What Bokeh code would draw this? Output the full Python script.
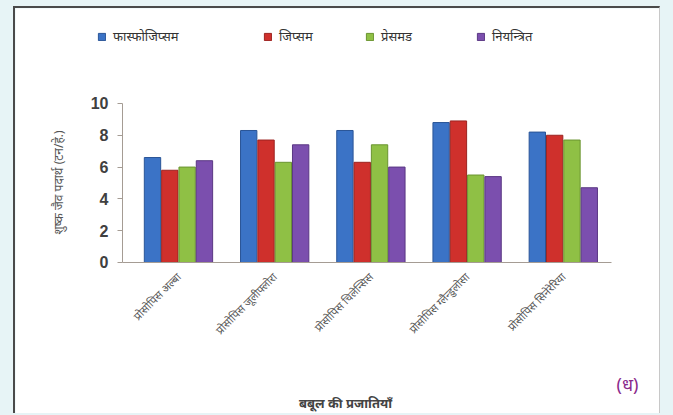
import math
from bokeh.plotting import figure
from bokeh.models import (ColumnDataSource, Legend, LegendItem, Label,
                          Range1d, FixedTicker)
from bokeh.transform import dodge
from bokeh.layouts import column
from bokeh.embed import file_html
from bokeh.resources import INLINE

# ---------------- data ----------------
species = ["प्रोसोपिस अल्बा", "प्रोसोपिस जूलीफ्लोरा", "प्रोसोपिस चिलेन्सिस",
           "प्रोसोपिस ग्लैन्डुलोसा", "प्रोसोपिस सिनेरेरिया"]
series_names = ["फास्फोजिप्सम", "जिप्सम", "प्रेसमड", "नियन्त्रित"]
phosphogypsum = [6.6, 8.3, 8.3, 8.8, 8.2]
gypsum = [5.8, 7.7, 6.3, 8.9, 8.0]
pressmud = [6.0, 6.3, 7.4, 5.5, 7.7]
control = [6.4, 7.4, 6.0, 5.4, 4.7]
y_ticks = [0, 2, 4, 6, 8, 10]
y_title = "शुष्क जैव पदार्थ (टन/हे.)"
x_title = "बबूल की प्रजातियाँ"
panel_tag = "(ध)"

position = list(range(1, len(species) + 1))  # category slots

colors = ["#3b73c6", "#cf302c", "#8fc045", "#7b4fae"]
edge_colors = ["#2a5597", "#9c2320", "#6a9430", "#5a3783"]
offsets = [-0.27, -0.09, 0.09, 0.27]
series_keys = ["phosphogypsum", "gypsum", "pressmud", "control"]

source = ColumnDataSource(dict(pos=position, species=species,
                               phosphogypsum=phosphogypsum, gypsum=gypsum,
                               pressmud=pressmud, control=control))

FONT = "'Noto Sans', sans-serif"

p = figure(x_range=Range1d(-0.694, 6.031), y_range=Range1d(-9.62, 15.97),
           width=647, height=407,
           output_backend="svg", toolbar_location=None,
           min_border=0, min_border_left=0, min_border_right=0,
           min_border_top=0, min_border_bottom=0,
           background_fill_color="white", border_fill_color="white",
           outline_line_color=None)
p.margin = (6, 10, 0, 13)

renderers = []
for key, col, ec, off in zip(series_keys, colors, edge_colors, offsets):
    r = p.vbar(x=dodge("pos", off), top=key, width=0.17, bottom=0,
               source=source, fill_color=col, line_color=ec, line_width=1)
    renderers.append(r)

p.xgrid.grid_line_color = None
p.ygrid.grid_line_color = None

# one legend per series, above the bars
legend_x = [82, 248, 350, 461]
for name, r, lx in zip(series_names, renderers, legend_x):
    lg = Legend(items=[LegendItem(label=name, renderers=[r])],
                location=(lx, 370), orientation="horizontal",
                border_line_color=None, background_fill_alpha=0,
                padding=0, margin=0, spacing=0,
                glyph_width=9, glyph_height=9, label_standoff=7,
                label_text_font=FONT, label_text_font_size="13px",
                label_text_color="#333333", label_height=14)
    p.add_layout(lg, "center")

AX = "#a59c94"
# y axis, drawn at the left edge of the category area
p.yaxis.fixed_location = 0.418
p.yaxis.bounds = (0, 10)
p.yaxis.ticker = FixedTicker(ticks=y_ticks)
p.yaxis.axis_line_color = AX
p.yaxis.major_tick_line_color = AX
p.yaxis.major_tick_out = 5
p.yaxis.major_tick_in = 0
p.yaxis.minor_tick_line_color = None
p.yaxis.major_label_text_font = "'Liberation Sans', Arial, sans-serif"
p.yaxis.major_label_text_font_style = "bold"
p.yaxis.major_label_text_font_size = "16px"
p.yaxis.major_label_text_color = "#404040"
p.yaxis.major_label_standoff = 9

# x axis at y = 0
p.xaxis.fixed_location = 0
p.xaxis.bounds = (0.418, 5.5)
p.xaxis.ticker = FixedTicker(ticks=position)
p.xaxis.major_label_overrides = {pos: name for pos, name in zip(position, species)}
p.xaxis.axis_line_color = AX
p.xaxis.major_tick_line_color = None
p.xaxis.minor_tick_line_color = None
p.xaxis.major_label_orientation = math.pi / 4
p.xaxis.major_label_text_font = FONT
p.xaxis.major_label_text_font_size = "11px"
p.xaxis.major_label_text_color = "#555555"
p.xaxis.major_label_standoff = 6

# titles
p.add_layout(Label(x=43, y=233, x_units="screen", y_units="screen",
                   text=y_title, angle=math.pi / 2,
                   text_align="center", text_baseline="middle",
                   text_font=FONT, text_font_size="12px",
                   text_color="#555555"))
p.add_layout(Label(x=330, y=13, x_units="screen", y_units="screen",
                   text=x_title, text_align="center", text_baseline="middle",
                   text_font=FONT, text_font_size="13px",
                   text_font_style="bold", text_color="#444444"))
p.add_layout(Label(x=601, y=32, x_units="screen", y_units="screen",
                   text=panel_tag, text_align="left", text_baseline="middle",
                   text_font=FONT, text_font_size="18px",
                   text_color="#8a2a8c"))

layout = column(p, width=673, height=415,
                styles={"background-color": "#e7f4f6"})
p.styles = {"border-top": "2px solid #4a4a4a", "border-left": "2px solid #4a4a4a",
            "border-right": "1px solid #c8c8c8"}

open("out.html", "w").write(file_html(layout, INLINE))
